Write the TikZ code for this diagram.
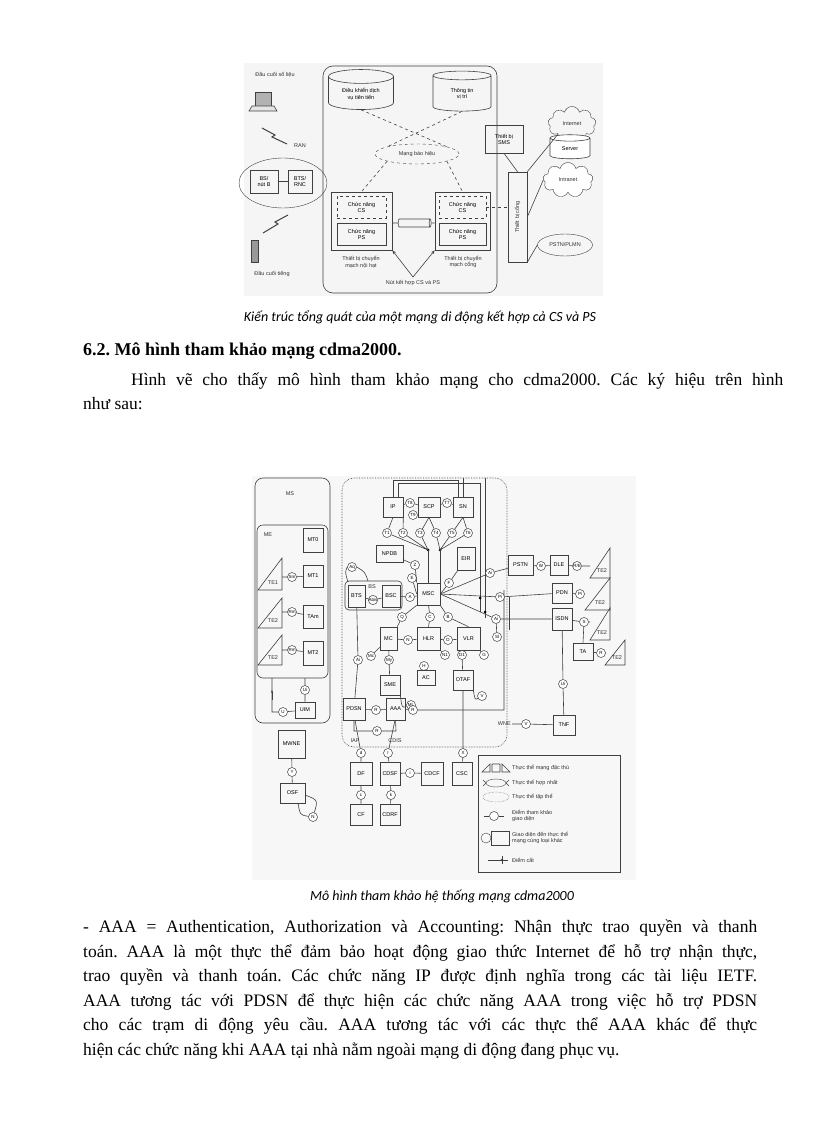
\documentclass[tikz,border=0pt]{standalone}
\usepackage{fontspec}
\setmainfont{Liberation Serif}
\newfontfamily\capfont{Carlito}
\newfontfamily\dgfont{Liberation Sans}
\usetikzlibrary{shapes.geometric,shapes.symbols,arrows.meta}
\frenchspacing
\tikzset{
 ln/.style={draw=black!75,line width=0.6pt},
 bx/.style={draw=black!75,line width=0.6pt,inner sep=0pt,font=\dgfont\fontsize{5.5}{6}\selectfont,align=center},
 rc/.style={circle,draw=black!75,line width=0.5pt,inner sep=0pt,minimum size=9pt,fill=white,font=\dgfont\fontsize{4.5}{5}\selectfont},
 tx/.style={font=\dgfont\fontsize{5.5}{6.5}\selectfont,align=center,text=black!80,inner sep=1pt},
 cyl/.style={cylinder,shape border rotate=90,draw=black!75,line width=0.6pt,aspect=0.35,align=center,font=\dgfont\fontsize{5.5}{6.5}\selectfont,inner sep=1pt},
 para/.style={font=\fontsize{17.5}{24}\selectfont,anchor=base west,inner sep=0pt}
}
\newcommand\bx[6]{\node[bx,minimum width={#4pt-#2pt},minimum height={#5pt-#3pt}] (#1) at ({(#2+#4)/2},{(#3+#5)/2}) {#6};}
\newcommand\rc[4]{\node[rc] (#1) at (#2,#3) {#4};}
\newcommand\tri[4]{\draw[ln] (#1,#3)--(#2,#4)--(#2,#3)--cycle;}
\begin{document}
\begin{tikzpicture}[x=1pt,y=-1pt]
\useasboundingbox (0,0) rectangle (816,1123);
\fill[white] (0,0) rectangle (816,1123);
%================ TOP DIAGRAM
\fill[black!4] (244,63) rectangle (603,296);
\draw[ln,rounded corners=10pt] (323,66) rectangle (497,293);
\node[cyl,minimum width=65pt,minimum height=40pt] (dk) at (361,94) {Điều khiển dịch\\vụ tiên tiến};
\node[cyl,minimum width=58pt,minimum height=40pt] (tt) at (462,94) {Thông tin\\vị trí};
\node[ellipse,draw=black!75,dashed,minimum width=84pt,minimum height=20pt,tx] (mbh) at (417,154) {Mạng báo hiệu};
\bx{lsw}{331}{192}{392}{250}{}
\bx{gsw}{435}{192}{490}{250}{}
\node[bx,dashed,minimum width=49pt,minimum height=22pt] (lcs) at (361.5,207.5) {Chức năng\\CS};
\node[bx,minimum width=49pt,minimum height=22pt] (lps) at (361.5,234) {Chức năng\\PS};
\node[bx,dashed,minimum width=47pt,minimum height=22pt] (gcs) at (462.5,207.5) {Chức năng\\CS};
\node[bx,minimum width=47pt,minimum height=22pt] (gps) at (462.5,234) {Chức năng\\PS};
\node[cylinder,draw=black!75,line width=0.6pt,minimum width=8pt,minimum height=33pt,aspect=0.3] (lnk) at (413.5,223) {};
\draw[ln] (lsw.east|-lnk) -- (lnk.west) (lnk.east) -- (gsw.west|-lnk);
\draw[ln,dashed] (dk.south) -- (mbh.north east) (tt.south) -- (mbh.north west)
 (mbh.south west) -- (lsw.north) (mbh.south east) -- (gsw.north);
\node[tx] (lswl) at (361,262) {Thiết bị chuyển\\mạch nội hạt};
\node[tx] (gswl) at (463,262) {Thiết bị chuyển\\mạch cổng};
\node[tx] (nkh) at (413,283) {Nút kết hợp CS và PS};
\coordinate (nk) at (413,277);
\draw[ln,-{Stealth[length=4pt]}] (nk) -- (lsw.south east);
\draw[ln,-{Stealth[length=4pt]}] (nk) -- (gsw.south west);
\bx{sms}{485}{125}{523}{153}{Thiết bị\\SMS}
\node[bx,minimum width=19pt,minimum height=90pt] (gw) at (517.5,217) {};
\node[tx,rotate=90] (gwl) at (gw) {Thiết bị cổng};
\draw[ln] (sms.south) -- (gw.north);
\draw[ln,dashed] (gcs.east) -- (gw.west|-gcs);
\node[cloud,draw=black!75,cloud puffs=9,minimum width=48pt,minimum height=24pt,tx] (inet) at (572,124) {Internet};
\node[cyl,fill=white,minimum width=40pt,minimum height=24pt] (srv) at (570,149) {Server};
\node[cloud,draw=black!75,cloud puffs=9,minimum width=50pt,minimum height=26pt,tx,fill=white] (intr) at (568,180) {Intranet};
\node[ellipse,draw=black!75,minimum width=55pt,minimum height=22pt,tx] (pstn) at (565,245) {PSTN/PLMN};
\draw[ln] (gw.north east) -- (inet.south west) (gw.east) -- (intr.west) (gw.south east) -- (pstn.west);
\node[tx] (dcsl) at (275,75) {Đầu cuối số liệu};
\draw[ln,fill=black!30] (255,92) rectangle (271,106);
\draw[ln,fill=black!10] (252,106) -- (274,106) -- (277,111) -- (249,111) -- cycle;
\node[tx] (ran) at (300,146) {RAN};
\node[ellipse,draw=black!75,minimum width=88pt,minimum height=50pt] (rane) at (283,183) {};
\bx{bsn}{250}{170}{278}{193}{BS/\\nút B}
\bx{rnc}{288}{170}{312}{193}{BTS/\\RNC}
\draw[ln] (bsn) -- (rnc);
\draw[ln,line width=1pt] (262,128) -- (275,135) -- (272,137) -- (287,144);
\draw[ln,line width=1pt] (288,215) -- (275,222) -- (278,224) -- (263,233);
\draw[ln,fill=black!40] (251,240) rectangle (258,262);
\node[tx] (dct) at (272,274) {Đầu cuối tiếng};
\node[font=\capfont\itshape\fontsize{14}{16}\selectfont,anchor=base] (cap1) at (420,321) {Kiến trúc tổng quát của một mạng di động kết hợp cả CS và PS};
%================ TEXT
\node[para,font=\bfseries\fontsize{18}{24}\selectfont] (h62) at (83,355) {6.2. Mô hình tham khảo mạng cdma2000.};
\node[para] (p1) at (131,385) {\makebox[652pt][s]{Hình vẽ cho thấy mô hình tham khảo mạng cho cdma2000. Các ký hiệu trên hình}};
\node[para] (p2) at (83,409) {như sau:};
%================ BOTTOM DIAGRAM
\fill[black!3] (252,476) rectangle (636,880);
\draw[ln,rounded corners=8pt] (255,478) rectangle (330,723);
\node[tx] (msl) at (290,494) {MS};
\draw[ln,rounded corners=6pt] (257,525) rectangle (328,678);
\node[tx] (mel) at (268,535) {ME};
\bx{mt0}{303}{528}{323}{552}{MT0}
\tri{258}{282}{590}{558}\node[tx] (te1) at (273,583) {TE1};
\rc{sm}{292}{577}{Sm}
\bx{mt1}{303}{565}{323}{587}{MT1}
\tri{258}{282}{628}{598}\node[tx] (te2a) at (273,621) {TE2};
\rc{rm1}{292}{612}{Rm}
\bx{tam}{303}{605}{323}{628}{TAm}
\tri{258}{282}{665}{635}\node[tx] (te2b) at (273,658) {TE2};
\rc{rm2}{292}{650}{Rm}
\bx{mt2}{303}{641}{323}{665}{MT2}
\draw[ln] (282,577) -- (sm) -- (mt1) (282,612) -- (rm1) -- (tam) (282,650) -- (rm2) -- (mt2);
\rc{ui}{305}{690}{Ui}
\bx{uim}{295}{702}{315}{718}{UIM}
\rc{uu}{283}{712}{U}
\draw[ln] (305,678) -- (ui) -- (uim) (uim) -- (uu) -- (272,712) -- (272,678);
\draw[ln,-{Stealth[length=3pt]}] (272,700) -- (272,690);
\bx{mwne}{278}{730}{305}{758}{MWNE}
\rc{yy}{292}{772}{Y}
\bx{osf}{280}{783}{305}{803}{OSF}
\rc{nn}{313}{817}{N}
\draw[ln] (mwne) -- (yy) -- (osf);
\draw[ln] (298,803) .. controls (300,815) .. (nn) (305,795) .. controls (318,800) .. (nn);
% dotted core network
\draw[ln,densely dotted,rounded corners=12pt] (342,478) rectangle (507,747);
\bx{ip}{383}{497}{403}{517}{IP}
\bx{scp}{418}{497}{440}{517}{SCP}
\bx{sn}{453}{497}{473}{517}{SN}
\rc{t8}{410}{503}{T8}\rc{t7}{447}{503}{T7}\rc{t9}{413}{515}{T9}
\rc{ta}{387}{533}{T1}\rc{tb}{403}{533}{T2}\rc{tc}{420}{533}{T3}\rc{td}{436}{533}{T4}\rc{te}{452}{533}{T5}\rc{tf}{468}{533}{T6}
\draw[ln] (ip) -- (t8) -- (scp) -- (t7) -- (sn);
\coordinate (j1) at (428,550); \coordinate (j2) at (440,550);
\fill (j1) circle (1.5pt) (j2) circle (1.5pt);
\draw[ln] (ip.south) -- (ta) -- (j1) (ip.south east) -- (tb) -- (j1) (scp.south) -- (tc) -- (j1)
 (scp.south) -- (td) -- (j2) (sn.south) -- (te) -- (j2) (sn.south) -- (tf) -- (j2);
\draw[ln] (393,497) -- (393,480) -- (458,480) -- (458,497);
\draw[ln] (398,497) -- (398,483) -- (480,483) -- (480,612);
\draw[ln] (463,497) -- (463,478) (485,478) -- (485,618);
\bx{npdb}{376}{545}{403}{562}{NPDB}
\bx{eir}{457}{547}{475}{570}{EIR}
\bx{msc}{417}{583}{440}{605}{MSC}
\draw[ln] (j1) -- (j1|-msc.north) (j2) -- (j2|-msc.north);
\rc{zz}{415}{565}{Z}\rc{ee}{412}{578}{E}\rc{ff}{449}{583}{F}
\draw[ln] (npdb) -- (zz) -- (msc.north west) (ee) -- (msc.west) (eir) -- (ff) -- (msc.east);
\draw[ln,rounded corners=4pt] (345,581) rectangle (402,610);
\node[tx] (bsl) at (372,587) {BS};
\bx{bts}{348}{585}{365}{607}{BTS}
\rc{abis}{373}{600}{Abis}
\bx{bsc}{382}{585}{400}{607}{BSC}
\rc{aq}{352}{567}{Aq}
\rc{aa}{410}{597}{A}
\draw[ln] (bts) -- (abis) -- (bsc) -- (aa) -- (msc);
\draw[ln] (348,582) .. controls (345,572) .. (aq.west) (aq.east) .. controls (365,572) .. (368,581);
\rc{qq}{402}{617}{Q}\rc{cc}{430}{617}{C}\rc{bb}{448}{617}{B}
\bx{mc}{380}{627}{397}{650}{MC}
\rc{nn2}{408}{640}{N}
\bx{hlr}{417}{627}{440}{650}{HLR}
\rc{dd}{448}{640}{D}
\bx{vlr}{457}{627}{480}{650}{VLR}
\draw[ln] (msc.south west) -- (qq) -- (mc.north east) (msc.south) -- (cc) -- (hlr.north) (msc.south east) -- (bb) -- (vlr.north);
\draw[ln] (mc) -- (nn2) -- (hlr) -- (dd) -- (vlr);
\rc{mcc}{371}{656}{Mc}\rc{my}{389}{660}{My}\rc{hh}{424}{666}{H}
\rc{n1}{445}{655}{N1}\rc{d1}{462}{655}{D1}\rc{gg}{484}{655}{G}
\draw[ln] (mc) -- (mcc) (mc) -- (my) (vlr) -- (gg);
\bx{sme}{380}{675}{400}{695}{SME}
\bx{ac}{417}{670}{435}{685}{AC}
\bx{otaf}{453}{670}{473}{690}{OTAF}
\rc{vv}{482}{696}{V}\rc{ml}{411}{705}{ML}
\draw[ln] (hh) -- (ac) (my) -- (sme) (d1) -- (otaf) (n1) -- (hlr.south east);
\draw[ln] (sme.south east) .. controls (402,708) .. (ml) (otaf.south east) .. controls (475,700) .. (vv);
\rc{ai}{358}{660}{Ai}
\bx{pdsn}{343}{698}{365}{720}{PDSN}
\rc{rp}{376}{710}{R}
\bx{aaa}{386}{698}{405}{720}{AAA}
\rc{rr}{413}{710}{R}
\rc{rr2}{377}{731}{R}
\draw[ln] (bts) -- (ai) -- (pdsn) (pdsn) -- (rp) -- (aaa) -- (rr) (rr) -- (504,710) -- (504,590);
\draw[ln] (pdsn.south) -- (354,731) -- (rr2) -- (396,731) -- (aaa.south);
\node[tx] (iap) at (355,741) {IAP};
\node[tx] (cdis) at (395,741) {CDIS};
% right side
\rc{ax}{490}{573}{Ai}
\bx{pstn2}{508}{555}{533}{575}{PSTN}
\rc{ww}{541}{566}{W}
\bx{dle}{550}{555}{568}{575}{DLE}
\rc{re}{577}{566}{R/E}
\tri{590}{610}{578}{548}\node[tx] (te2c) at (602,571) {TE2};
\bx{pdn}{552}{583}{572}{603}{PDN}
\rc{pa}{580}{594}{Pi}
\tri{585}{610}{610}{578}\node[tx] (te2d) at (600,603) {TE2};
\bx{isdn}{552}{608}{572}{630}{ISDN}
\rc{ss}{584}{622}{S}
\tri{590}{610}{640}{608}\node[tx] (te2e) at (602,633) {TE2};
\bx{ta}{573}{643}{593}{660}{TA}
\rc{rt}{601}{653}{R}
\tri{605}{625}{665}{640}\node[tx] (te2f) at (617,658) {TE2};
\rc{pi}{500}{597}{Pi}
\rc{ai2}{496}{619}{Ai}
\rc{ai3}{497}{637}{Sl}
\draw[ln] (msc.east) -- (ax) -- (pstn2) -- (ww) -- (dle) -- (re) -- (590,566);
\draw[ln] (msc.east) -- (pi) -- (pdn) -- (pa) -- (585,594);
\draw[ln] (msc.east) -- (ai2) -- (isdn) -- (ss) -- (590,622);
\draw[ln] (ai2) -- (ai3) (ta) -- (rt) -- (605,653) (ss) -- (ta.north);
\draw[ln] (509,597) -- (509,630);
\fill (480,598) circle (1.5pt) (485,612) circle (1.5pt);
\rc{ui2}{563}{684}{Ui}
\bx{tnf}{553}{715}{575}{735}{TNF}
\rc{vv2}{526}{724}{V}
\node[tx,anchor=east] (wne) at (512,724) {WNE};
\draw[ln] (isdn) -- (ui2) -- (tnf) (wne) -- (vv2) -- (tnf);
% bottom boxes
\rc{dd2}{361}{753}{d}
\bx{df}{350}{762}{372}{785}{DF}
\rc{cc2}{361}{795}{c}
\bx{cf}{350}{804}{372}{825}{CF}
\rc{ii}{388}{753}{I}
\bx{cdsf}{380}{762}{400}{785}{CDSF}
\rc{ij}{410}{773}{i}
\bx{cdcf}{421}{762}{443}{785}{CDCF}
\rc{kk}{391}{795}{k}
\bx{cdrf}{380}{804}{400}{825}{CDRF}
\rc{xx}{463}{753}{X}
\bx{csc}{452}{762}{472}{785}{CSC}
\draw[ln] (355,720) -- (dd2) -- (df) -- (cc2) -- (cf) (395,720) -- (ii) -- (cdsf) -- (ij) -- (cdcf) (cdsf) -- (kk) -- (cdrf) (otaf) -- (xx) -- (csc);
% legend
\draw[ln,line width=0.8pt] (478,755) rectangle (620,872);
\draw[ln] (482,772) -- (490,764) -- (490,772) -- cycle (492,764) rectangle (500,772) (502,764) -- (502,772) -- (510,772) -- cycle;
\node[tx,anchor=west] (lg1) at (511,768) {Thực thể mạng đặc thù};
\node[ellipse,draw=black!75,minimum width=20pt,minimum height=8pt,inner sep=0pt] (lge) at (496,783) {};
\draw[ln] (483,780) -- (486,783) -- (483,786) (lge.west) -- (486,783) (509,780) -- (506,783) -- (509,786) (lge.east) -- (506,783);
\node[tx,anchor=west] (lg2) at (511,783) {Thực thể hợp nhất};
\node[ellipse,draw=black!75,densely dotted,minimum width=26pt,minimum height=10pt] (lgd) at (496,797) {};
\node[tx,anchor=west] (lg3) at (511,797) {Thực thể tập thể};
\node[rc] (lgc) at (494,816) {};
\draw[ln] (484,816) -- (lgc) -- (504,816);
\node[tx,anchor=west,align=left] (lg4) at (511,816) {Điểm tham khảo\\giao diện};
\node[circle,draw=black!75,minimum size=10pt,inner sep=0pt] (lgo) at (486,838) {};
\bx{lgb}{491}{831}{509}{845}{}
\node[tx,anchor=west,align=left] (lg5) at (511,838) {Giao diện đến thực thể\\mạng cùng loại khác};
\draw[ln] (488,860) -- (508,860);
\draw[ln] (502,856) -- (502,864);
\fill[black!75] (502,860) circle (1.3pt);
\node[tx,anchor=west] (lg6) at (511,860) {Điểm cắt};
\node[font=\capfont\itshape\fontsize{14}{16}\selectfont,anchor=base] (cap2) at (442,900) {Mô hình tham khảo hệ thống mạng cdma2000};
%================ FINAL PARAGRAPH
\node[para] (q1) at (83,932) {\makebox[674pt][s]{- AAA = Authentication, Authorization và Accounting: Nhận thực trao quyền và thanh}};
\node[para] (q2) at (83,957) {\makebox[674pt][s]{toán. AAA là một thực thể đảm bảo hoạt động giao thức Internet để hỗ trợ nhận thực,}};
\node[para] (q3) at (83,981) {\makebox[674pt][s]{trao quyền và thanh toán. Các chức năng IP được định nghĩa trong các tài liệu IETF.}};
\node[para] (q4) at (83,1006) {\makebox[674pt][s]{AAA tương tác với PDSN để thực hiện các chức năng AAA trong việc hỗ trợ PDSN}};
\node[para] (q5) at (83,1030) {\makebox[674pt][s]{cho các trạm di động yêu cầu. AAA tương tác với các thực thể AAA khác để thực}};
\node[para] (q6) at (83,1055) {hiện các chức năng khi AAA tại nhà nằm ngoài mạng di động đang phục vụ.};
\end{tikzpicture}
\end{document}
